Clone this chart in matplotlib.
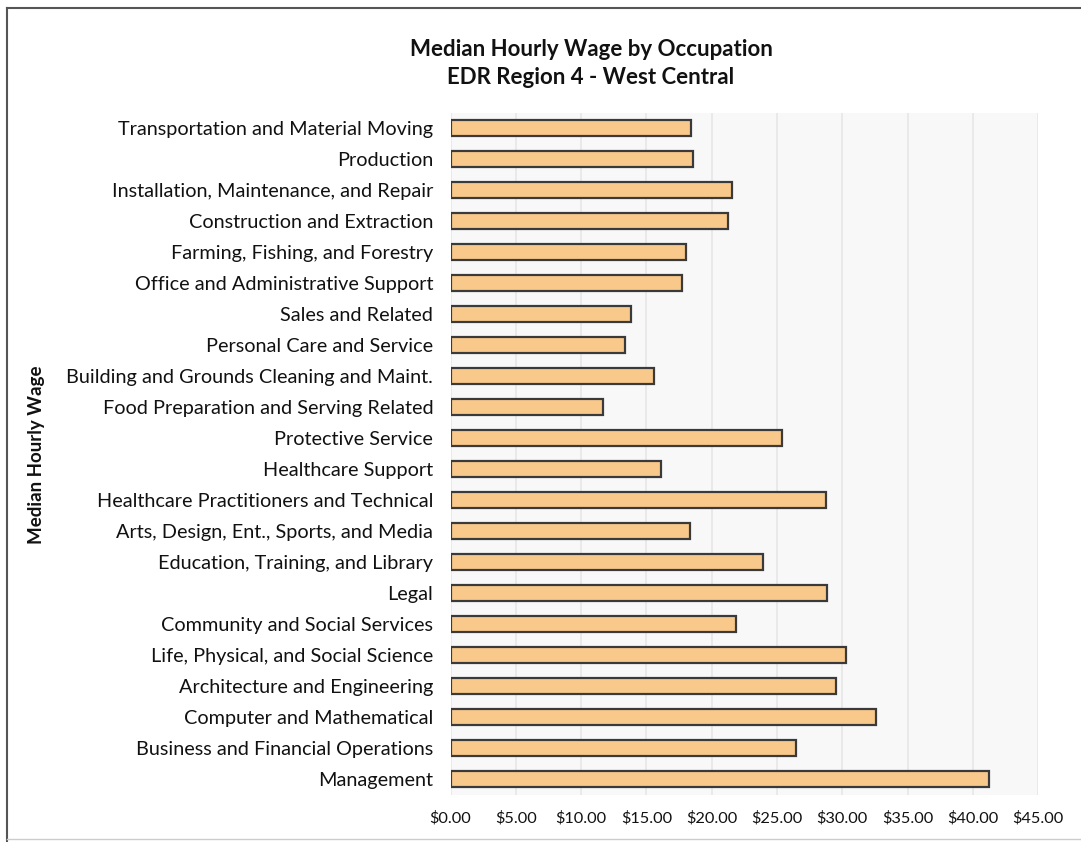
import matplotlib
matplotlib.use('Agg')
import matplotlib.pyplot as plt
from matplotlib.ticker import FuncFormatter
from matplotlib.lines import Line2D

# occupations, top to bottom
occupations = [
    'Transportation and Material Moving',
    'Production',
    'Installation, Maintenance, and Repair',
    'Construction and Extraction',
    'Farming, Fishing, and Forestry',
    'Office and Administrative Support',
    'Sales and Related',
    'Personal Care and Service',
    'Building and Grounds Cleaning and Maint.',
    'Food Preparation and Serving Related',
    'Protective Service',
    'Healthcare Support',
    'Healthcare Practitioners and Technical',
    'Arts, Design, Ent., Sports, and Media',
    'Education, Training, and Library',
    'Legal',
    'Community and Social Services',
    'Life, Physical, and Social Science',
    'Architecture and Engineering',
    'Computer and Mathematical',
    'Business and Financial Operations',
    'Management',
]

# median hourly wage, dollars
wages = [18.42, 18.55, 21.53, 21.27, 18.01, 17.70, 13.80, 13.34, 15.58, 11.70,
         25.41, 16.10, 28.75, 18.34, 23.91, 28.85, 21.84, 30.28, 29.49, 32.56,
         26.43, 41.26]

x_ticks = [0, 5, 10, 15, 20, 25, 30, 35, 40, 45]

title_lines = ['Median Hourly Wage by Occupation', 'EDR Region 4 - West Central']
y_title = 'Median Hourly Wage'

plt.rcParams['font.family'] = ['Lato', 'DejaVu Sans']

W, H = 1081, 842
fig = plt.figure(figsize=(W / 100, H / 100), dpi=100)
ax = fig.add_axes([450.5 / W, 1 - 794.5 / H, 587.8 / W, 682 / H])
ax.set_facecolor('#f8f8f8')

ypos = list(range(len(occupations)))
ax.barh(ypos, wages, height=0.52, color='#f9c98c', edgecolor='#3a3a3a',
        linewidth=1.6, zorder=3)

ax.set_xlim(0, 45)
ax.set_ylim(len(occupations) - 0.5, -0.5)
ax.set_xticks(x_ticks)
ax.xaxis.set_major_formatter(FuncFormatter(lambda v, p: '${:.2f}'.format(v)))
ax.set_yticks(ypos)
ax.set_yticklabels(occupations)
ax.tick_params(axis='y', length=0, pad=12.5, labelsize=14.3, labelcolor='#111111')
ax.tick_params(axis='x', length=0, pad=12, labelsize=11.8, labelcolor='#111111')
ax.grid(axis='x', color='#e6e6e6', linewidth=1.2, zorder=0)
for s in ax.spines.values():
    s.set_visible(False)

fig.text(591 / W, 1 - 50 / H, title_lines[0], ha='center', va='center',
         fontsize=16, fontweight='bold', color='#111111')
fig.text(591 / W, 1 - 77 / H, title_lines[1], ha='center', va='center',
         fontsize=16, fontweight='bold', color='#111111')
fig.text(37 / W, 1 - 455 / H, y_title, rotation=90, ha='center', va='center',
         fontsize=13.5, fontweight='bold', color='#111111')

# chart frame (top, left, faint bottom)
fig.add_artist(Line2D([7 / W, 1.0], [1 - 8 / H, 1 - 8 / H], color='#555555', linewidth=1.5))
fig.add_artist(Line2D([7 / W, 7 / W], [1 - 8 / H, 0.0], color='#555555', linewidth=1.5))
fig.add_artist(Line2D([7 / W, 1.0], [1 - 839 / H, 1 - 839 / H], color='#cccccc', linewidth=1))

fig.savefig('out.png', dpi=100)
